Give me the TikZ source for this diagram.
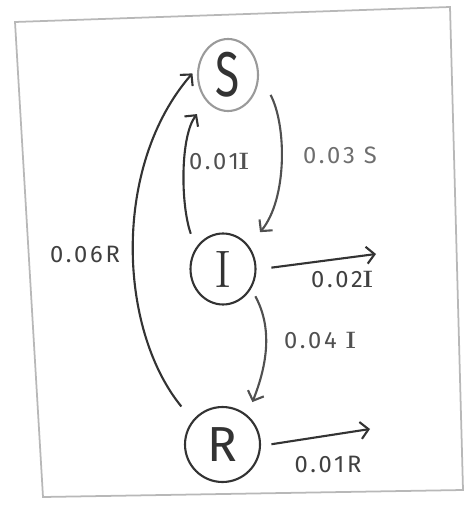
\documentclass[tikz,border=0pt]{standalone}
\usepackage{fontspec}
\usetikzlibrary{shapes.geometric,arrows.meta}
\newfontfamily\hand[LetterSpace=12]{Fira Sans}
\newfontfamily\handbig{Fira Sans}
\newcommand\serI{{\rmfamily\bfseries I}}
\definecolor{ink}{HTML}{333333}
\definecolor{inktwo}{HTML}{505050}
\definecolor{sgray}{HTML}{9A9A9A}
\definecolor{framegray}{HTML}{B8B8B8}
\definecolor{lab}{HTML}{404040}
\definecolor{labtwo}{HTML}{6E6E6E}
\begin{document}
\begin{tikzpicture}[x=0.02cm,y=-0.02cm,
  statenode/.style={ellipse,draw=ink,line width=1.2pt,inner sep=0pt,text=ink},
  edge/.style={draw=ink,line width=1.2pt,-{Straight Barb[length=1.6mm,width=3.4mm]}},
  lbl/.style={text=lab,font=\hand\fontsize{13.5}{15}\selectfont,inner sep=0pt},
  frame/.style={draw=framegray,line width=1pt}]
\useasboundingbox (0,0) rectangle (468,506);
\draw[frame] (15,22) -- (450,7) -- (463,490) -- (43,497) -- cycle;
% states
\node[statenode,draw=sgray,minimum width=1.2cm,minimum height=1.44cm,
      font=\handbig\fontsize{36}{36}\selectfont] (S) at (228,75) {\scalebox{0.7}[1]{S}};
\node[statenode,minimum width=1.3cm,minimum height=1.42cm,
      font=\rmfamily\fontsize{30}{30}\selectfont] (I) at (223,269) {I};
\node[statenode,minimum width=1.5cm,minimum height=1.5cm,
      font=\handbig\fontsize{28}{28}\selectfont] (R) at (222.5,444.5) {R};
% free ends
\coordinate (o1) at (376,254);
\coordinate (o2) at (370,429);
% connectors
\draw[edge,draw=inktwo,shorten <=14.2pt,shorten >=10pt]
  (S.4) .. controls (286.8,125.8) and (287.2,199.3) .. (I.42);
\draw[edge,shorten <=8.4pt,shorten >=8.9pt]
  (I.142) .. controls (180.45,204.6) and (180.15,136.15) .. (S.-129);
\draw[edge,shorten <=10.1pt,shorten >=4.5pt]
  (R.141) .. controls (117.6,328.3) and (112.3,165.35) .. (S.166);
\draw[edge,draw=inktwo,shorten <=4.9pt,shorten >=7.9pt]
  (I.-35) .. controls (274.5,331.4) and (264.8,370.7) .. (R.50);
\draw[edge,shorten <=8.5pt] (I.-1) -- (o1);
\draw[edge,shorten <=6pt] (R.-2) -- (o2);
% labels
\node[lbl,text=labtwo] (l1) at (340,155) {0.03 S};
\node[lbl,text=inktwo] (l2) at (219,162) {0.01\serI};
\node[lbl] (l3) at (85,254) {0.06R};
\node[lbl] (l4) at (342,280) {0.02\serI};
\node[lbl,text=inktwo] (l5) at (320,341) {0.04 \serI};
\node[lbl] (l6) at (328,464) {0.01R};
\end{tikzpicture}
\end{document}
